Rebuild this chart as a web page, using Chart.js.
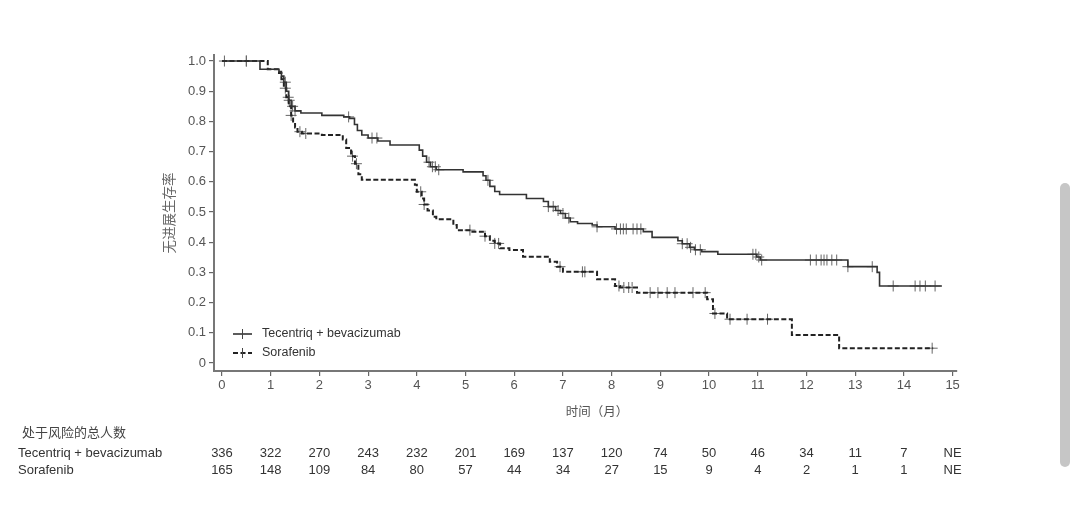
<!DOCTYPE html>
<html>
<head>
<meta charset="utf-8">
<script src="https://cdn.jsdelivr.net/npm/chart.js@4.4.1/dist/chart.umd.min.js"></script>
<style>
	html, body { margin: 0; padding: 0; background: #fff; }
	#wrap { position: relative; width: 1080px; height: 506px; }
	#scrollbar { position: absolute; left: 1060px; top: 183px; width: 10px; height: 284px; border-radius: 5px; background: #c6c6c6; }
</style>
</head>
<body>
<div id="wrap">
	<canvas id="km-chart" width="1080" height="506"></canvas>
	<div id="scrollbar"></div>
</div>
<script>

// Kaplan-Meier steps: time (months) where the curve drops, and the survival after it
const tecTimes = [0, 0.78, 1.17, 1.22, 1.27, 1.32, 1.37, 1.42, 1.50, 1.62, 2.05, 2.50, 2.62, 2.72, 2.78, 2.87, 3.00, 3.20, 3.45, 4.05, 4.12, 4.20, 4.28, 4.40, 4.95, 5.36, 5.42, 5.50, 5.60, 5.70, 6.25, 6.60, 6.70, 6.85, 6.95, 7.05, 7.15, 7.30, 7.60, 7.70, 8.07, 8.65, 8.83, 9.36, 9.45, 9.60, 9.70, 9.85, 10.18, 10.98, 11.05, 12.85, 13.45, 13.50, 14.78]
const tecSurv  = [1.0, 0.973, 0.965, 0.95, 0.93, 0.90, 0.87, 0.85, 0.835, 0.828, 0.82, 0.815, 0.81, 0.79, 0.77, 0.755, 0.745, 0.735, 0.722, 0.705, 0.685, 0.665, 0.65, 0.64, 0.633, 0.62, 0.605, 0.585, 0.568, 0.558, 0.545, 0.535, 0.518, 0.505, 0.495, 0.48, 0.468, 0.462, 0.457, 0.451, 0.444, 0.435, 0.416, 0.405, 0.395, 0.383, 0.375, 0.369, 0.36, 0.351, 0.341, 0.319, 0.30, 0.255, 0.255]

const sorTimes = [0, 0.94, 1.17, 1.22, 1.27, 1.32, 1.37, 1.42, 1.46, 1.50, 1.55, 1.64, 2.05, 2.48, 2.55, 2.65, 2.73, 2.80, 2.87, 3.96, 4.00, 4.10, 4.15, 4.22, 4.33, 4.40, 4.75, 4.82, 5.10, 5.40, 5.50, 5.60, 5.71, 5.90, 6.18, 6.73, 6.88, 7.00, 7.70, 8.07, 8.17, 8.52, 9.96, 10.08, 10.37, 11.70, 12.67, 14.60]
const sorSurv  = [1.0, 0.973, 0.96, 0.94, 0.91, 0.88, 0.85, 0.82, 0.80, 0.78, 0.766, 0.76, 0.755, 0.74, 0.712, 0.685, 0.66, 0.625, 0.607, 0.59, 0.567, 0.545, 0.525, 0.505, 0.484, 0.476, 0.457, 0.44, 0.435, 0.42, 0.405, 0.396, 0.38, 0.374, 0.352, 0.335, 0.319, 0.302, 0.277, 0.255, 0.25, 0.233, 0.211, 0.164, 0.145, 0.093, 0.049, 0.049]

// censored observations (months)
const tecCensor = [0.05, 0.5, 1.3, 1.38, 1.45, 1.5, 2.6, 3.08, 3.18, 4.25, 4.32, 4.38, 4.45, 5.46, 6.7, 6.8, 6.9, 7.0, 7.12, 7.7, 8.1, 8.18, 8.24, 8.3, 8.44, 8.52, 8.6, 9.45, 9.55, 9.62, 9.72, 9.82, 10.9, 10.96, 11.02, 11.08, 12.08, 12.2, 12.3, 12.36, 12.42, 12.52, 12.62, 12.85, 13.35, 13.78, 14.23, 14.33, 14.44, 14.64]
const sorCensor = [0.5, 1.3, 1.36, 1.42, 1.6, 1.72, 2.68, 2.76, 4.08, 4.15, 5.09, 5.4, 5.6, 5.68, 6.94, 7.4, 7.45, 8.15, 8.25, 8.35, 8.42, 8.79, 8.95, 9.14, 9.3, 9.67, 9.92, 10.12, 10.43, 10.78, 11.2, 14.58]

const xTicks = [0, 1, 2, 3, 4, 5, 6, 7, 8, 9, 10, 11, 12, 13, 14, 15]
const yTicks = [0, 0.1, 0.2, 0.3, 0.4, 0.5, 0.6, 0.7, 0.8, 0.9, 1.0]

// number at risk, one per x tick
const tecRisk = ['336', '322', '270', '243', '232', '201', '169', '137', '120', '74', '50', '46', '34', '11', '7', 'NE']
const sorRisk = ['165', '148', '109', '84', '80', '57', '44', '34', '27', '15', '9', '4', '2', '1', '1', 'NE']

const tecLabel = 'Tecentriq + bevacizumab'
const sorLabel = 'Sorafenib'
const xTitle = '时间（月）'
const yTitle = '无进展生存率'
const riskTitle = '处于风险的总人数'

const latin = '"Liberation Sans", Arial, sans-serif'
const cjk = '"Noto Sans CJK SC", sans-serif'

function survivalAt(times, surv, t) {
	let s = surv[0]
	for (let i = 0; i < times.length; i++) {
		if (times[i] <= t) s = surv[i]
	}
	return s
}

function steps(times, surv) {
	return times.map((t, i) => ({ x: t, y: surv[i] }))
}

function censorPoints(censor, times, surv) {
	return censor.map(t => ({ x: t, y: survivalAt(times, surv, t) }))
}

// legend drawn inside the plot, lower left
const kmLegend = {
	id: 'kmLegend',
	afterDatasetsDraw(chart) {
		const ctx = chart.ctx
		const area = chart.chartArea
		const rows = [chart.data.datasets[0], chart.data.datasets[1]]
		ctx.save()
		rows.forEach((ds, i) => {
			const y = area.bottom - 37 + i * 19
			const x0 = area.left + 19
			ctx.strokeStyle = ds.borderColor
			ctx.lineWidth = ds.borderWidth
			ctx.setLineDash(ds.borderDash || [])
			ctx.beginPath()
			ctx.moveTo(x0, y)
			ctx.lineTo(x0 + 19, y)
			ctx.stroke()
			ctx.setLineDash([])
			ctx.lineWidth = 1
			ctx.strokeStyle = '#444'
			ctx.beginPath()
			ctx.moveTo(x0 + 9.5, y - 5)
			ctx.lineTo(x0 + 9.5, y + 5)
			ctx.stroke()
			ctx.fillStyle = '#333'
			ctx.font = '12.5px ' + latin
			ctx.textBaseline = 'middle'
			ctx.textAlign = 'left'
			ctx.fillText(ds.label, x0 + 29, y)
		})
		ctx.restore()
	}
}

// x title and the number-at-risk table under the x axis
const riskTable = {
	id: 'riskTable',
	afterDraw(chart) {
		const ctx = chart.ctx
		const xs = chart.scales.x
		ctx.save()
		ctx.textBaseline = 'middle'
		ctx.fillStyle = '#555'
		ctx.font = '12.5px ' + cjk
		ctx.textAlign = 'center'
		ctx.fillText(xTitle, xs.getPixelForValue(7.7), 411)

		ctx.fillStyle = '#444'
		ctx.font = '13px ' + cjk
		ctx.textAlign = 'left'
		ctx.fillText(riskTitle, 22, 432)
		ctx.fillStyle = '#333'
		ctx.font = '13px ' + latin
		ctx.fillText(tecLabel, 18, 453)
		ctx.fillText(sorLabel, 18, 470)
		ctx.textAlign = 'center'
		xTicks.forEach((t, i) => {
			const px = xs.getPixelForValue(t)
			ctx.fillText(tecRisk[i], px, 453)
			ctx.fillText(sorRisk[i], px, 470)
		})
		ctx.restore()
	}
}

const ctx = document.getElementById('km-chart')

new Chart(ctx, {
	type: 'scatter',
	data: {
		datasets: [{
			label: tecLabel,
			data: steps(tecTimes, tecSurv),
			showLine: true,
			stepped: true,
			borderColor: '#333',
			borderWidth: 1.6,
			pointRadius: 0
		}, {
			label: sorLabel,
			data: steps(sorTimes, sorSurv),
			showLine: true,
			stepped: true,
			borderColor: '#222',
			borderWidth: 2,
			borderDash: [5, 2.5],
			pointRadius: 0
		}, {
			label: 'tec censored',
			data: censorPoints(tecCensor, tecTimes, tecSurv),
			showLine: false,
			pointStyle: 'cross',
			pointRadius: 5.5,
			borderColor: '#666',
			borderWidth: 1
		}, {
			label: 'sor censored',
			data: censorPoints(sorCensor, sorTimes, sorSurv),
			showLine: false,
			pointStyle: 'cross',
			pointRadius: 5.5,
			borderColor: '#666',
			borderWidth: 1
		}]
	},
	options: {
		responsive: false,
		animation: false,
		events: [],
		layout: { padding: { left: 0, top: 55, right: 123, bottom: 85 } },
		plugins: {
			legend: { display: false },
			tooltip: { enabled: false }
		},
		scales: {
			x: {
				type: 'linear',
				min: -0.164,
				max: 15.09,
				afterBuildTicks: (scale) => { scale.ticks = xTicks.map(v => ({ value: v })) },
				afterFit: (scale) => { scale.height = 50 },
				grid: { drawOnChartArea: false, drawTicks: true, tickLength: 5, color: '#666', lineWidth: 1.2 },
				border: { display: true, color: '#777', width: 2 },
				ticks: { color: '#555', font: { family: latin, size: 13 }, padding: 2, maxRotation: 0, autoSkip: false },
				title: { display: false }
			},
			y: {
				type: 'linear',
				min: -0.0265,
				max: 1.02,
				afterBuildTicks: (scale) => { scale.ticks = yTicks.map(v => ({ value: v })) },
				afterFit: (scale) => { scale.width = 214 },
				grid: { drawOnChartArea: false, drawTicks: true, tickLength: 5, color: '#666', lineWidth: 1.2 },
				border: { display: true, color: '#777', width: 2 },
				ticks: {
					color: '#555',
					font: { family: latin, size: 13 },
					padding: 3,
					callback: (v) => v === 0 ? '0' : v.toFixed(1)
				},
				title: { display: true, text: yTitle, color: '#666', font: { family: cjk, size: 13.5 }, padding: { top: 161, bottom: 0 } }
			}
		}
	},
	plugins: [kmLegend, riskTable]
})
</script>
</body>
</html>
